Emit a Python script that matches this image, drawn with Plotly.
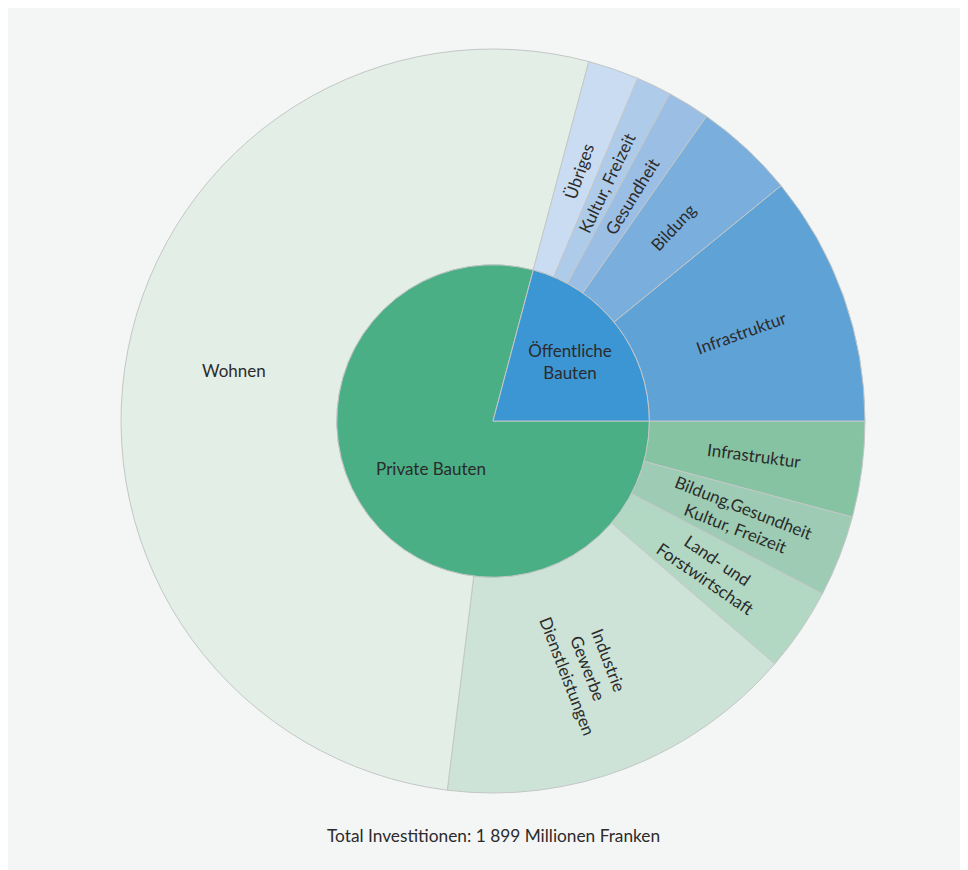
import math
import plotly.graph_objects as go

# ---- data (millions of francs) ----
group_labels = ["Private Bauten", "Öffentliche<br>Bauten"]

private_labels = ["Infrastruktur", "Bildung,Gesundheit<br>Kultur, Freizeit",
                  "Land- und<br>Forstwirtschaft", "Industrie<br>Gewerbe<br>Dienstleistungen",
                  "Wohnen"]
private_values = [79, 67, 69, 297, 991]

public_labels = ["Übriges", "Kultur, Freizeit", "Gesundheit", "Bildung", "Infrastruktur"]
public_values = [42, 29, 35, 83, 207]

group_colors = ["#4aaf85", "#3d96d4"]
private_colors = ["#86c3a2", "#9dcbb3", "#b2d8c4", "#cde3d7", "#e3eee7"]
public_colors = ["#c9dcf2", "#aecbea", "#9bbee4", "#7aaedc", "#5fa2d6"]

total = sum(private_values) + sum(public_values)
note = "Total Investitionen: " + f"{total:,}".replace(",", " ") + " Millionen Franken"

# unique keys (pie aggregates equal labels), display text separately
outer_keys = ["Private " + l for l in private_labels] + ["Öffentliche " + l for l in public_labels]
outer_text = private_labels + public_labels
outer_values = private_values + public_values
outer_colors = private_colors + public_colors
group_values = [sum(private_values), sum(public_values)]

FONT = "Lato, 'Open Sans', sans-serif"
TXT = "#2b2b2b"
LINE = dict(color="#c3c7c7", width=1)
FS = 17
HOLE = 0.42

fig = go.Figure()
fig.add_trace(go.Pie(
    labels=outer_keys, values=outer_values, text=outer_text, sort=False,
    direction="clockwise", rotation=90, hole=HOLE,
    marker=dict(colors=outer_colors, line=LINE),
    textinfo="none",
    hoverinfo="text+value", showlegend=False,
    domain=dict(x=[0, 1], y=[0, 1]),
))
r_in = HOLE / 2
fig.add_trace(go.Pie(
    labels=group_labels, values=group_values, sort=False,
    direction="clockwise", rotation=90,
    marker=dict(colors=group_colors, line=LINE),
    texttemplate="%{label}", textposition="inside",
    insidetextorientation="horizontal",
    insidetextfont=dict(family=FONT, size=FS, color=TXT),
    hoverinfo="label+value", showlegend=False,
    domain=dict(x=[0.5 - r_in, 0.5 + r_in], y=[0.5 - r_in, 0.5 + r_in]),
))

# outer-ring labels: placed at each slice's mid-angle, mid-ring radius
annotations = []
r_mid = 0.5 * (HOLE + 1) / 2  # in paper units (plot area is square)
cum = 0
for txt, v in zip(outer_text, outer_values):
    mid = (cum + v / 2) / total * 360.0  # clockwise from 3 o'clock
    cum += v
    a = math.radians(mid)
    x = 0.5 + r_mid * math.cos(a)
    y = 0.5 - r_mid * math.sin(a)
    if txt == "Wohnen":
        ang = 0
    else:
        ang = mid if (mid <= 90 or mid >= 270) else mid - 180
        if ang > 180:
            ang -= 360
    annotations.append(dict(text=txt, x=x, y=y, xref="paper", yref="paper",
                            showarrow=False, xanchor="center", yanchor="middle",
                            textangle=ang, align="center",
                            font=dict(family=FONT, size=FS, color=TXT)))

annotations.append(dict(text=note, x=0.5, y=-0.0565, xref="paper", yref="paper",
                        showarrow=False, xanchor="center", yanchor="middle",
                        font=dict(family=FONT, size=17.3, color=TXT)))

fig.update_layout(
    width=960, height=862,
    margin=dict(l=113, r=103, t=41, b=77),
    paper_bgcolor="#f4f6f5",
    plot_bgcolor="#f4f6f5",
    font=dict(family=FONT, color=TXT),
    annotations=annotations,
)

fig.write_html("out.html")
